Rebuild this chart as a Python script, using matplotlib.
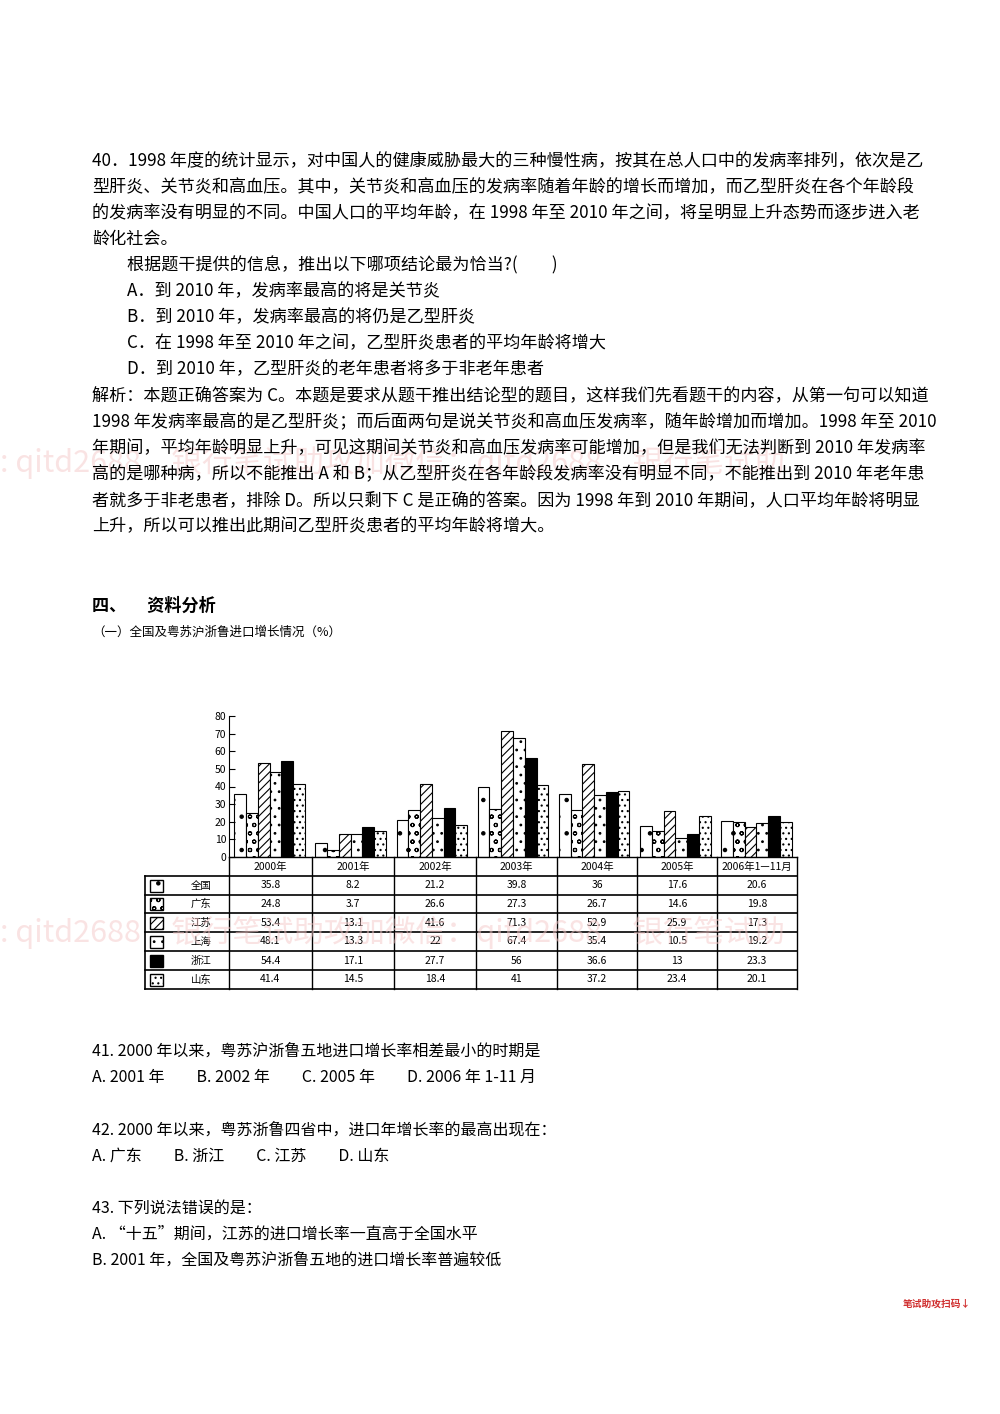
import numpy as np
import matplotlib.pyplot as plt
from matplotlib.patches import Rectangle

plt.rcParams['font.family'] = ['Noto Sans CJK SC', 'DejaVu Sans']
plt.rcParams['hatch.linewidth'] = 0.8

years = ['2000年', '2001年', '2002年', '2003年', '2004年', '2005年', '2006年1—11月']
regions = ['全国', '广东', '江苏', '上海', '浙江', '山东']
quanguo = [35.8, 8.2, 21.2, 39.8, 36, 17.6, 20.6]
guangdong = [24.8, 3.7, 26.6, 27.3, 26.7, 14.6, 19.8]
jiangsu = [53.4, 13.1, 41.6, 71.3, 52.9, 25.9, 17.3]
shanghai = [48.1, 13.3, 22, 67.4, 35.4, 10.5, 19.2]
zhejiang = [54.4, 17.1, 27.7, 56, 36.6, 13, 23.3]
shandong = [41.4, 14.5, 18.4, 41, 37.2, 23.4, 20.1]
series = [quanguo, guangdong, jiangsu, shanghai, zhejiang, shandong]
hatches = ['.', 'oo', '////', '..', None, '...']
faces = ['white', 'white', 'white', 'white', 'black', 'white']

W, H = 1000, 1414
fig = plt.figure(figsize=(10, 14.14), dpi=100)

def t(x, y, s, size=12.3, **kw):
    fig.text(x / W, 1 - y / H, s, fontsize=size, va='center', ha='left', **kw)

para = [
    (92, 161, '40．1998 年度的统计显示，对中国人的健康威胁最大的三种慢性病，按其在总人口中的发病率排列，依次是乙'),
    (92, 187, '型肝炎、关节炎和高血压。其中，关节炎和高血压的发病率随着年龄的增长而增加，而乙型肝炎在各个年龄段'),
    (92, 213, '的发病率没有明显的不同。中国人口的平均年龄，在 1998 年至 2010 年之间，将呈明显上升态势而逐步进入老'),
    (92, 239, '龄化社会。'),
    (127, 265, '根据题干提供的信息，推出以下哪项结论最为恰当?(　　)'),
    (127, 291, 'A．到 2010 年，发病率最高的将是关节炎'),
    (127, 317, 'B．到 2010 年，发病率最高的将仍是乙型肝炎'),
    (127, 343, 'C．在 1998 年至 2010 年之间，乙型肝炎患者的平均年龄将增大'),
    (127, 369, 'D．到 2010 年，乙型肝炎的老年患者将多于非老年患者'),
    (92, 396, '解析：本题正确答案为 C。本题是要求从题干推出结论型的题目，这样我们先看题干的内容，从第一句可以知道'),
    (92, 422, '1998 年发病率最高的是乙型肝炎；而后面两句是说关节炎和高血压发病率，随年龄增加而增加。1998 年至 2010'),
    (92, 448, '年期间，平均年龄明显上升，可见这期间关节炎和高血压发病率可能增加，但是我们无法判断到 2010 年发病率'),
    (92, 474, '高的是哪种病，所以不能推出 A 和 B；从乙型肝炎在各年龄段发病率没有明显不同，不能推出到 2010 年老年患'),
    (92, 500, '者就多于非老患者，排除 D。所以只剩下 C 是正确的答案。因为 1998 年到 2010 年期间，人口平均年龄将明显'),
    (92, 526, '上升，所以可以推出此期间乙型肝炎患者的平均年龄将增大。'),
]
for x, y, s in para:
    t(x, y, s)

t(92, 606, '四、　 资料分析', size=12.3, weight='bold')
t(92, 632, '（一）全国及粤苏沪浙鲁进口增长情况（%）', size=9)

qs = [
    (92, 1051, '41. 2000 年以来，粤苏沪浙鲁五地进口增长率相差最小的时期是'),
    (92, 1077, 'A. 2001 年　　B. 2002 年　　C. 2005 年　　D. 2006 年 1-11 月'),
    (92, 1130, '42. 2000 年以来，粤苏浙鲁四省中，进口年增长率的最高出现在：'),
    (92, 1156, 'A. 广东　　B. 浙江　　C. 江苏　　D. 山东'),
    (92, 1208, '43. 下列说法错误的是：'),
    (92, 1234, 'A. “十五”期间，江苏的进口增长率一直高于全国水平'),
    (92, 1260, 'B. 2001 年，全国及粤苏沪浙鲁五地的进口增长率普遍较低'),
]
for x, y, s in qs:
    t(x, y, s, size=11.5)

# watermark
wm = ': qitd2688　银行笔试助攻加微信：qitd2688　银行笔试助'
t(0, 462, wm, size=22, color='#f5c8c8', alpha=0.5, zorder=0)
t(0, 932, wm, size=22, color='#f5c8c8', alpha=0.5, zorder=0)
t(903, 1304, '笔试助攻扫码↓', size=7, color='#d03030', weight='bold')

# bar chart
x0, x1, ytop, ybot = 229, 797, 716, 857
ax = fig.add_axes([x0 / W, 1 - ybot / H, (x1 - x0) / W, (ybot - ytop) / H])
ax.patch.set_alpha(0)
n = len(years)
bw = 0.145
for i, (vals, ht, fc) in enumerate(zip(series, hatches, faces)):
    xs = np.arange(n) + 0.065 + bw * (i + 0.5)
    ax.bar(xs, vals, width=bw, facecolor=fc, edgecolor='black', hatch=ht, linewidth=0.8)
ax.set_xlim(0, n)
ax.set_ylim(0, 80)
ax.set_yticks(range(0, 81, 10))
ax.tick_params(axis='y', labelsize=7.5, length=4, direction='in', pad=2)
ax.set_xticks([])
for s in ['top', 'right', 'bottom']:
    ax.spines[s].set_visible(False)

# table
tx0 = 145
cols = [229, 312, 394, 476, 557, 637, 717, 797]
rows = [857, 876, 895, 913, 932, 951, 970, 989]
tab = fig.add_axes([0, 0, 1, 1])
tab.set_xlim(0, W)
tab.set_ylim(H, 0)
tab.axis('off')
tab.patch.set_alpha(0)
for c in cols:
    tab.plot([c, c], [rows[0], rows[-1]], color='black', lw=1)
tab.plot([tx0, tx0], [rows[1], rows[-1]], color='black', lw=1.2)
tab.plot([cols[0], cols[-1]], [rows[0], rows[0]], color='black', lw=1)
for r in rows[1:]:
    tab.plot([tx0, cols[-1]], [r, r], color='black', lw=1.2)
for j, yl in enumerate(years):
    tab.text((cols[j] + cols[j + 1]) / 2, (rows[0] + rows[1]) / 2, yl,
             ha='center', va='center', fontsize=7.5)
for i, (reg, vals) in enumerate(zip(regions, series)):
    yc = (rows[i + 1] + rows[i + 2]) / 2
    tab.add_patch(Rectangle((150, yc - 6), 13, 12, facecolor=faces[i],
                            edgecolor='black', hatch=hatches[i], lw=1))
    tab.text(201, yc, reg, ha='center', va='center', fontsize=7.5)
    for j, v in enumerate(vals):
        tab.text((cols[j] + cols[j + 1]) / 2, yc, f'{v:g}', ha='center', va='center', fontsize=7.5)

fig.savefig('out.png', dpi=100)
